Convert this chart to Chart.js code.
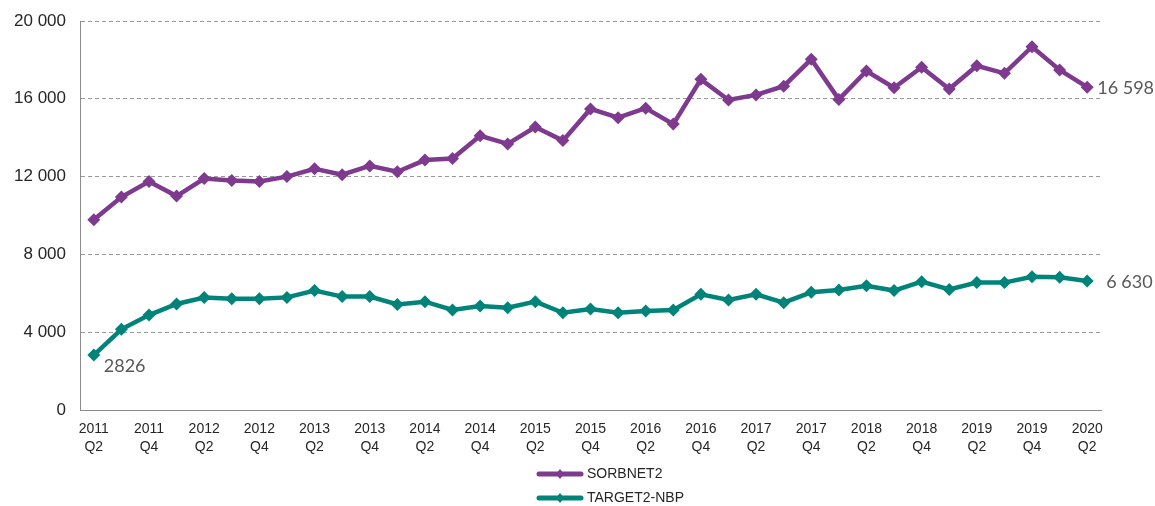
<!DOCTYPE html>
<html>
<head>
<meta charset="utf-8">
<script src="https://cdn.jsdelivr.net/npm/chart.js@4.4.1/dist/chart.umd.min.js"></script>
<style>
  html, body { margin: 0; padding: 0; background: #fff; }
  #wrap { width: 1155px; height: 506px; position: relative; }
</style>
</head>
<body>
<div id="wrap"><canvas id="rtgsChart"></canvas></div>
<script>
// quarters 2011 Q2 .. 2020 Q2
const quarters = [
  '2011 Q2','2011 Q3','2011 Q4','2012 Q1','2012 Q2','2012 Q3','2012 Q4','2013 Q1','2013 Q2','2013 Q3',
  '2013 Q4','2014 Q1','2014 Q2','2014 Q3','2014 Q4','2015 Q1','2015 Q2','2015 Q3','2015 Q4','2016 Q1',
  '2016 Q2','2016 Q3','2016 Q4','2017 Q1','2017 Q2','2017 Q3','2017 Q4','2018 Q1','2018 Q2','2018 Q3',
  '2018 Q4','2019 Q1','2019 Q2','2019 Q3','2019 Q4','2020 Q1','2020 Q2'
];
const sorbnet2 = [
  9780, 10950, 11750, 11000, 11900, 11800, 11750, 12000, 12400, 12100,
  12550, 12250, 12850, 12930, 14100, 13680, 14550, 13850, 15480, 15030,
  15520, 14700, 17000, 15940, 16200, 16650, 18030, 15970, 17430, 16570,
  17620, 16500, 17700, 17310, 18680, 17480, 16598
];
const target2nbp = [
  2826, 4150, 4880, 5450, 5780, 5720, 5720, 5790, 6140, 5830,
  5830, 5430, 5570, 5140, 5350, 5260, 5570, 5000, 5190, 5000,
  5090, 5140, 5950, 5660, 5950, 5520, 6050, 6170, 6390, 6140,
  6600, 6200, 6550, 6550, 6850, 6820, 6630
];
const yTicks = [0, 4000, 8000, 12000, 16000, 20000];

const PURPLE = '#7e3a8e';
const TEAL = '#00847a';
const FONT = "'Liberation Sans', Arial, sans-serif";

const fmtSpace = v => String(v).replace(/\B(?=(\d{3})+(?!\d))/g, ' ');

const endLabels = {
  id: 'endLabels',
  afterDatasetsDraw(chart) {
    const c = chart.ctx;
    c.save();
    c.font = "18px Lato, 'Open Sans', sans-serif";
    c.fillStyle = '#595959';
    c.textBaseline = 'middle';
    c.textAlign = 'left';
    const m0 = chart.getDatasetMeta(0).data;
    const m1 = chart.getDatasetMeta(1).data;
    const last0 = m0[m0.length - 1], last1 = m1[m1.length - 1], first1 = m1[0];
    c.fillText(fmtSpace(sorbnet2[sorbnet2.length - 1]), last0.x + 10, last0.y + 1);
    c.fillText(fmtSpace(target2nbp[target2nbp.length - 1]), last1.x + 19, last1.y + 1);
    c.fillText(String(target2nbp[0]), first1.x + 10, first1.y + 11);
    c.restore();
  }
};

const stackedLegend = {
  id: 'stackedLegend',
  afterDraw(chart) {
    const c = chart.ctx;
    const bottom = chart.chartArea.bottom;
    const x0 = 537;
    c.save();
    c.font = '14px ' + FONT;
    c.textBaseline = 'middle';
    chart.data.datasets.forEach((ds, i) => {
      const y = bottom + 64 + i * 24;
      c.strokeStyle = ds.borderColor;
      c.lineWidth = 5;
      c.lineCap = 'round';
      c.beginPath();
      c.moveTo(x0 + 2, y);
      c.lineTo(x0 + 44, y);
      c.stroke();
      c.fillStyle = ds.borderColor;
      c.beginPath();
      c.moveTo(x0 + 23, y - 5);
      c.lineTo(x0 + 27, y);
      c.lineTo(x0 + 23, y + 5);
      c.lineTo(x0 + 19, y);
      c.closePath();
      c.fill();
      c.fillStyle = '#262626';
      c.fillText(ds.label, x0 + 50, y);
    });
    c.restore();
  }
};

new Chart(document.getElementById('rtgsChart'), {
  type: 'line',
  data: {
    labels: quarters,
    datasets: [
      {
        label: 'SORBNET2',
        data: sorbnet2,
        borderColor: PURPLE,
        backgroundColor: PURPLE,
        borderWidth: 4.5,
        pointStyle: 'rectRot',
        pointRadius: 6.5,
        pointBorderWidth: 0,
        tension: 0
      },
      {
        label: 'TARGET2-NBP',
        data: target2nbp,
        borderColor: TEAL,
        backgroundColor: TEAL,
        borderWidth: 4.5,
        pointStyle: 'rectRot',
        pointRadius: 6.5,
        pointBorderWidth: 0,
        tension: 0
      }
    ]
  },
  options: {
    responsive: true,
    maintainAspectRatio: false,
    animation: false,
    layout: { padding: { top: 21, right: 54, left: 0, bottom: 0 } },
    plugins: {
      legend: { display: false },
      tooltip: { enabled: false }
    },
    scales: {
      x: {
        offset: true,
        grid: { display: false, drawTicks: false },
        border: { display: true, color: '#8c8c8c', width: 1 },
        ticks: {
          autoSkip: false,
          maxRotation: 0,
          padding: 10,
          color: '#262626',
          font: { family: FONT, size: 14, lineHeight: 1.3 },
          callback: (v, i) => {
            const q = quarters[i].split(' ');
            return (q[1] === 'Q2' || q[1] === 'Q4') ? q : '';
          }
        },
        afterFit: s => { s.height = 96; }
      },
      y: {
        min: 0,
        max: 20000,
        afterBuildTicks: s => { s.ticks = yTicks.map(v => ({ value: v })); },
        grid: {
          drawTicks: false,
          color: ctx => ctx.tick && ctx.tick.value === 0 ? 'rgba(0,0,0,0)' : '#9a9a9a',
          lineWidth: 1
        },
        border: { display: true, color: '#8c8c8c', width: 1, dash: [4, 3] },
        ticks: {
          padding: 14,
          color: '#262626',
          font: { family: FONT, size: 17 },
          callback: v => fmtSpace(v)
        },
        afterFit: s => { s.width = 80; s.paddingTop = 0; s.paddingBottom = 0; }
      }
    }
  },
  plugins: [endLabels, stackedLegend]
});
</script>
</body>
</html>
